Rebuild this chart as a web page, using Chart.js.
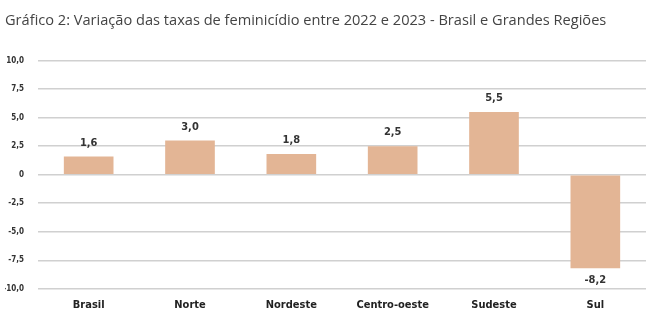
<!DOCTYPE html>
<html>
<head>
<meta charset="utf-8">
<script src="https://cdn.jsdelivr.net/npm/chart.js@4"></script>
<style>
  body { margin: 0; background: #fff; }
  #wrap { width: 662px; height: 324px; }
</style>
</head>
<body>
<div id="wrap"><canvas id="chart" width="662" height="324"></canvas></div>
<script>
const regioes = ["Brasil", "Norte", "Nordeste", "Centro-oeste", "Sudeste", "Sul"];
const variacao = [1.6, 3.0, 1.8, 2.5, 5.5, -8.2];
const tituloGrafico = "Gráfico 2: Variação das taxas de feminicídio entre 2022 e 2023 - Brasil e Grandes Regiões";

const fmt = v => v === 0 ? "0" : v.toFixed(1).replace(".", ",");
const fonteEstreita = "'DejaVu Sans Condensed', 'Liberation Sans Narrow', sans-serif";

// escreve o valor em cima (ou embaixo) de cada barra
const rotulos = {
    id: "rotulos",
    afterDatasetsDraw(chart) {
        const ctx = chart.ctx;
        const meta = chart.getDatasetMeta(0);
        ctx.save();
        ctx.font = "bold 11px " + fonteEstreita;
        ctx.fillStyle = "#333";
        ctx.textAlign = "center";
        meta.data.forEach((bar, i) => {
            const v = variacao[i];
            if (v >= 0) {
                ctx.textBaseline = "bottom";
                ctx.fillText(fmt(v), bar.x, bar.y - 8);
            } else {
                ctx.textBaseline = "top";
                ctx.fillText(fmt(v), bar.x, bar.y + 6);
            }
        });
        ctx.restore();
    }
};

new Chart(document.getElementById("chart"), {
    type: "bar",
    data: {
        labels: regioes,
        datasets: [{
            data: variacao,
            backgroundColor: "#e3b595",
            borderWidth: 0,
            categoryPercentage: 1.0,
            barPercentage: 0.49
        }]
    },
    options: {
        responsive: false,
        animation: false,
        layout: { padding: { left: 5, right: 16, top: 0, bottom: 2 } },
        plugins: {
            legend: { display: false },
            tooltip: { enabled: false },
            title: {
                display: true,
                text: tituloGrafico,
                align: "start",
                color: "#444",
                font: { family: "'Open Sans', sans-serif", size: 14.6, weight: "normal" },
                padding: { top: 12, bottom: 31 }
            }
        },
        scales: {
            y: {
                min: -10,
                max: 10,
                afterFit: scale => { scale.width = 33; },
                ticks: {
                    stepSize: 2.5,
                    padding: 14,
                    color: "#333",
                    font: { family: fonteEstreita, size: 8, weight: "bold" },
                    callback: v => fmt(v)
                },
                grid: { color: "#d0d0d0", lineWidth: 1.5, drawTicks: false },
                border: { display: false }
            },
            x: {
                ticks: {
                    color: "#222",
                    padding: 10,
                    font: { family: fonteEstreita, size: 11, weight: "bold" }
                },
                grid: { display: false, drawTicks: false },
                border: { display: false }
            }
        }
    },
    plugins: [rotulos]
});
</script>
</body>
</html>
